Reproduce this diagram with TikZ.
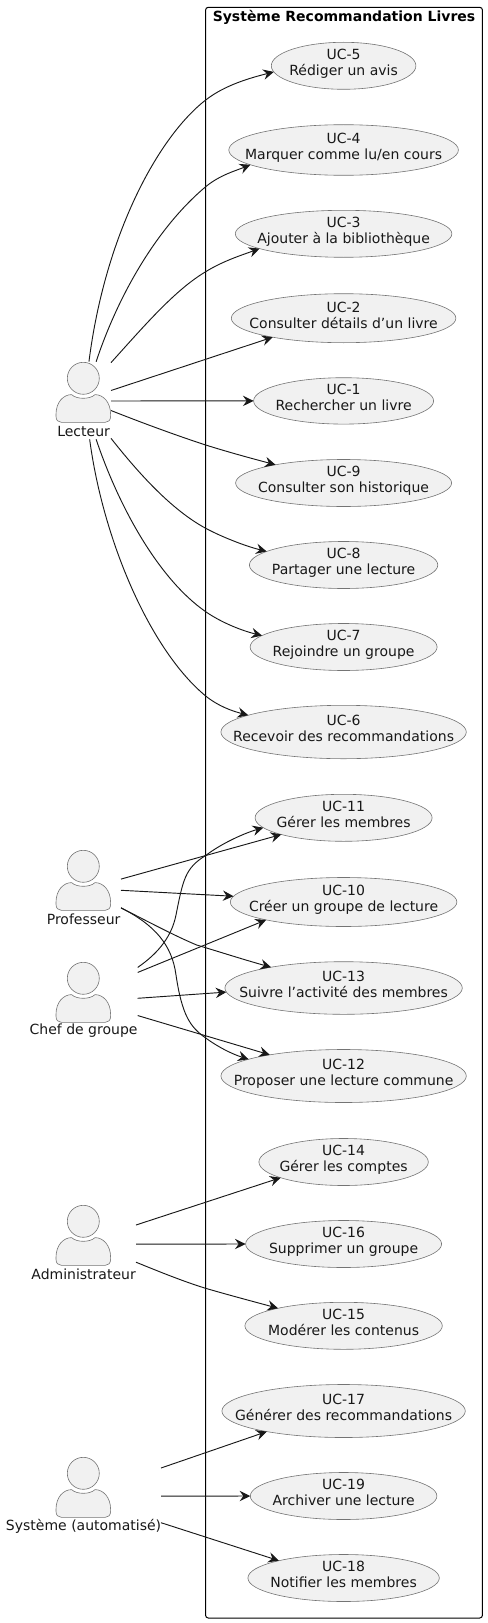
\documentclass[tikz,border=0pt]{standalone}
\usepackage{fontspec}
\setmainfont{DejaVu Sans}
\usetikzlibrary{arrows.meta,shapes.geometric}
\definecolor{inkc}{HTML}{181818}
\definecolor{fillc}{HTML}{F1F1F1}
\newcommand{\uctext}[2]{\makebox[0pt]{\raisebox{-1.7pt}[0pt][0pt]{\begin{tabular}{@{}c@{}}#1\\#2\end{tabular}}}}
\newcommand{\ucnode}[6]{\node[ucase,minimum width={2*#3*0.75pt},minimum height={2*#4*0.75pt}] (#1) at (343.6,#2) {\uctext{#5}{#6}};}
\newcommand{\actornode}[7]{% name, cx, cy of box, half w, head y, label, head x
  \node[actorbox,minimum width={2*#4*0.75pt},minimum height={2*38.8*0.75pt}] (#1) at (#2,#3) {};
  \pic at (83.3,#5) {actorfig};
  \node[actorlabel] (#1label) at (83.6,#5+52.7) {#6};}
\tikzset{
  ucase/.style={ellipse,draw=inkc!60,line width=0.45pt,fill=fillc,inner sep=0pt,outer sep=0pt,font=\fontsize{10.5pt}{12pt}\selectfont,text=inkc},
  actorbox/.style={rectangle,inner sep=0pt,outer sep=0pt},
  actorlabel/.style={inner sep=0pt,font=\fontsize{10.5pt}{12pt}\selectfont,text=inkc},
  actorpart/.style={draw=inkc!60,line width=0.45pt,fill=fillc},
  flow/.style={draw=inkc,line width=0.7pt,-{Stealth[length=8pt,width=7.8pt,inset=2.8pt]}},
  actorfig/.pic={
    \path[actorpart] (0,0) circle[radius=16];
    \path[actorpart] (-27.3,36) .. controls (-27.3,24) and (-20,16.3) .. (-11.7,16.3)
      .. controls (-9,19) and (-4,20) .. (0,20) .. controls (4,20) and (9,19) .. (11.7,16.3)
      .. controls (20,16.3) and (27.3,24) .. (27.3,36) -- (27.3,38)
      .. controls (27.3,42) and (25,44) .. (22,44) -- (-22,44)
      .. controls (-25,44) and (-27.3,42) .. (-27.3,38) -- cycle;
  }
}
\begin{document}
\begin{tikzpicture}[x=0.75pt,y=-0.75pt]
\useasboundingbox (0,0) rectangle (487,1623);
\draw[black,line width=0.75pt,rounded corners=2pt] (205.6,7.3) rectangle (482.4,1618);
\node[inner sep=0pt,font=\bfseries\fontsize{10.5pt}{12pt}\selectfont,text=black] (title) at (344,17) {Système Recommandation Livres};

\ucnode{uc5}{65.8}{72.3}{23.5}{UC-5}{Rédiger un avis}
\ucnode{uc4}{150}{114.8}{25.3}{UC-4}{Marquer comme lu/en cours}
\ucnode{uc3}{233.8}{108.3}{23.5}{UC-3}{Ajouter à la bibliothèque}
\ucnode{uc2}{318.2}{112.3}{24.5}{UC-2}{Consulter détails d’un livre}
\ucnode{uc1}{400.9}{90}{23.2}{UC-1}{Rechercher un livre}
\ucnode{uc9}{483}{108}{23.5}{UC-9}{Consulter son historique}
\ucnode{uc8}{565}{94.2}{23.5}{UC-8}{Partager une lecture}
\ucnode{uc7}{647}{93.5}{23.5}{UC-7}{Rejoindre un groupe}
\ucnode{uc6}{732}{122.7}{26.7}{UC-6}{Recevoir des recommandations}
\ucnode{uc11}{817.8}{88.5}{23.5}{UC-11}{Gérer les membres}
\ucnode{uc10}{902}{113.3}{24.5}{UC-10}{Créer un groupe de lecture}
\ucnode{uc13}{988}{118.7}{26.3}{UC-13}{Suivre l’activité des membres}
\ucnode{uc12}{1076}{122.7}{26.5}{UC-12}{Proposer une lecture commune}
\ucnode{uc14}{1162}{84.7}{23.5}{UC-14}{Gérer les comptes}
\ucnode{uc16}{1244}{98}{23.5}{UC-16}{Supprimer un groupe}
\ucnode{uc15}{1325.8}{98.7}{23.5}{UC-15}{Modérer les contenus}
\ucnode{uc17}{1411}{121.7}{26.5}{UC-17}{Générer des recommandations}
\ucnode{uc19}{1496}{93.3}{23.5}{UC-19}{Archiver une lecture}
\ucnode{uc18}{1578}{95.7}{23.5}{UC-18}{Notifier les membres}

\actornode{lect}{83.5}{400.5}{27.5}{378.3}{Lecteur}{}
\actornode{prof}{84}{889}{37}{866.3}{Professeur}{}
\actornode{chef}{83.8}{1001.1}{53.9}{978.3}{Chef de groupe}{}
\actornode{admin}{83.5}{1244.1}{52.5}{1221.3}{Administrateur}{}
\actornode{sys}{83.8}{1496.1}{77.2}{1473.3}{Système (automatisé)}{}

% Lecteur
\draw[flow] (lect.82.9) .. controls (105,235) and (158,137) .. (205.7,100) .. controls (225,85) and (250,78) .. (uc5.185.8);
\draw[flow] (lect.72.5) .. controls (120,290) and (160,225) .. (205.7,186.7) .. controls (220,175) and (235,171) .. (uc4.189.5);
\draw[flow] (lect.54.6) .. controls (145,325) and (175,290) .. (205.7,271.7) .. controls (223,261) and (242,255) .. (uc3.190.6);
\draw[flow] (lect.20.3) -- (uc2.195);
\draw[flow] (lect.-1.7) -- (uc1.180);
\draw[flow] (lect.-20.9) .. controls (140,422) and (175,435) .. (205.7,445) .. controls (228,452) and (250,458) .. (uc9.165.3);
\draw[flow] (lect.-54.7) .. controls (140,475) and (172,510) .. (205.7,528.3) .. controls (222,537) and (245,546) .. (uc8.170.5);
\draw[flow] (lect.-72.5) .. controls (120,510) and (160,580) .. (205.7,611.7) .. controls (222,623) and (243,631) .. (uc7.172.3);
\draw[flow] (lect.-81.5) .. controls (103,540) and (150,650) .. (205.7,696) .. controls (218,706) and (232,711) .. (uc6.170.3);
% Professeur
\draw[flow] (prof.15.6) -- (uc11.195.6);
\draw[flow] (prof.-2) -- (uc10.177.4);
\draw[flow] (prof.-27.5) .. controls (145,920) and (175,936) .. (196.7,945) .. controls (220,952) and (245,960) .. (uc13.164.7);
\draw[flow] (prof.-27.5) .. controls (155,925) and (172,945) .. (176,975) .. controls (182,1015) and (190,1027) .. (205.7,1038) .. controls (218,1047) and (232,1054) .. (uc12.170.3);
% Chef de groupe
\draw[flow] (chef.32.1) .. controls (160,952) and (172,935) .. (176,915) .. controls (183,880) and (185,868) .. (205.7,855.5) .. controls (222,843) and (245,833) .. (uc11.187.2);
\draw[flow] (chef.28.9) -- (uc10.193.9);
\draw[flow] (chef.3) -- (uc13.182.6);
\draw[flow] (chef.-15.8) -- (uc12.164.1);
% Administrateur
\draw[flow] (admin.20.7) -- (uc14.194.3);
\draw[flow] (admin.0) -- (uc16.180);
\draw[flow] (admin.-19.5) .. controls (160,1272) and (185,1282) .. (205.7,1288.3) .. controls (225,1294) and (255,1302) .. (uc15.165.4);
% Système
\draw[flow] (sys.20.5) -- (uc17.195.4);
\draw[flow] (sys.0) -- (uc19.180);
\draw[flow] (sys.-19.9) -- (uc18.165.5);
\end{tikzpicture}
\end{document}
